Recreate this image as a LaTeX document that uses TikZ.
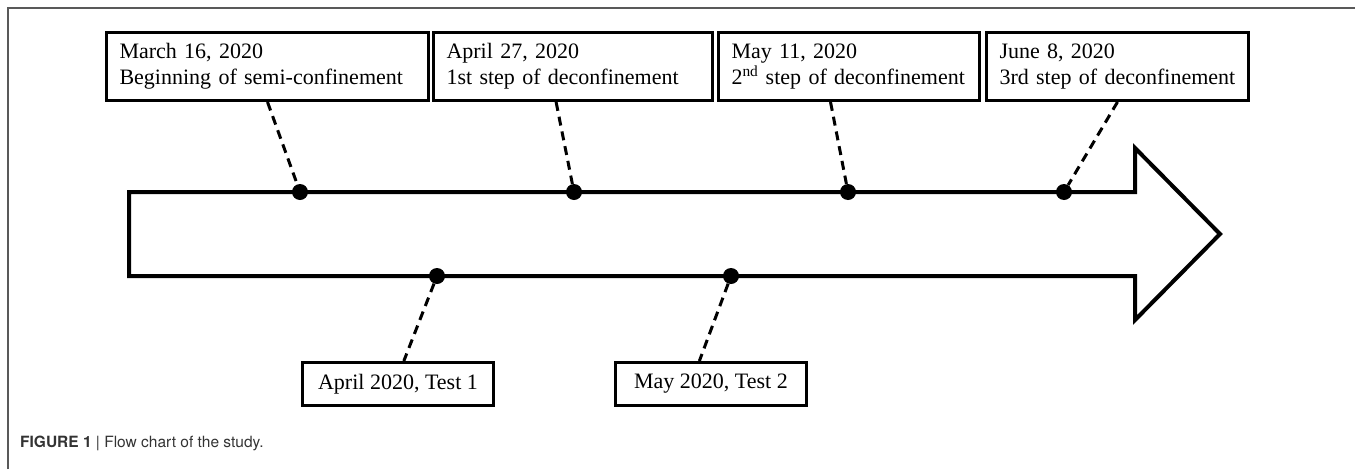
\documentclass[tikz,border=0pt]{standalone}
\usepackage{fontspec}
\setmainfont{Liberation Serif}
\newfontfamily\capfont{TeX Gyre Heros}
\usetikzlibrary{calc}

\begin{document}
\begin{tikzpicture}[x=1pt,y=-1pt,
    eventbox/.style={draw, line width=3pt, anchor=north west, minimum height=68pt,
        inner xsep=13pt, text width=#1, align=left, font=\fontsize{22}{26}\selectfont},
    testbox/.style={draw, line width=3pt, anchor=north west, minimum height=43pt,
        minimum width=191pt, font=\fontsize{22}{26}\selectfont},
    dot/.style={circle, fill=black, inner sep=0pt, minimum size=16pt},
    link/.style={line width=3pt, dash pattern=on 9pt off 6pt}]
    \useasboundingbox (0,0) rectangle (1355,469);

    % Define the arrow geometry (pixels)
    \def\xl{129}    % left end of the shaft
    \def\xs{1135}   % shoulder of the head
    \def\xt{1220}   % tip of the head
    \def\yt{192}    % upper edge of the shaft
    \def\yb{276}    % lower edge of the shaft

    % --- Frame ---
    \draw[black!65, line width=1.5pt] (8,469) -- (8,8) -- (1355,8);

    % --- Timeline arrow ---
    \draw[line width=4pt, line join=miter] (\xl,\yt) -- (\xs,\yt) -- (\xs,148) -- (\xt,234)
        -- (\xs,320) -- (\xs,\yb) -- (\xl,\yb) -- cycle;

    % --- Event boxes above the arrow ---
    \node[eventbox=296pt] (mar) at (105,31) {March 16, 2020\\Beginning of semi-confinement};
    \node[eventbox=253pt] (apr) at (432,31) {April 27, 2020\\1st step of deconfinement};
    \node[eventbox=235pt] (may) at (717,31) {May 11, 2020\\2\textsuperscript{nd} step of deconfinement};
    \node[eventbox=236pt] (jun) at (985,31) {June 8, 2020\\3rd step of deconfinement};

    % --- Test boxes below the arrow ---
    \node[testbox] (testA) at (301,361) {April 2020, Test 1};
    \node[testbox] (testB) at (614,361) {May 2020, Test 2};

    % --- Dots on the arrow ---
    \foreach \name/\x in {d1/300, d2/574, d3/848, d4/1064} {
        \node[dot] (\name) at (\x,\yt) {};
    }
    \foreach \name/\x in {d5/437, d6/731} {
        \node[dot] (\name) at (\x,\yb) {};
    }

    % --- Dashed links ---
    \draw[link] (mar.south) -- (d1);
    \draw[link] ($(apr.south west)!0.44!(apr.south east)$) -- (d2);
    \draw[link] ($(may.south west)!0.43!(may.south east)$) -- (d3);
    \draw[link] (jun.south) -- (d4);
    \draw[link] (d5) -- ($(testA.north west)!0.53!(testA.north east)$);
    \draw[link] (d6) -- ($(testB.north west)!0.44!(testB.north east)$);

    % --- Caption ---
    \node[anchor=base west, inner sep=0pt, text=black!80, font=\capfont\fontsize{15.5}{18}\selectfont]
        (caption) at (20,447) {\textbf{FIGURE 1} | Flow chart of the study.};
\end{tikzpicture}
\end{document}
